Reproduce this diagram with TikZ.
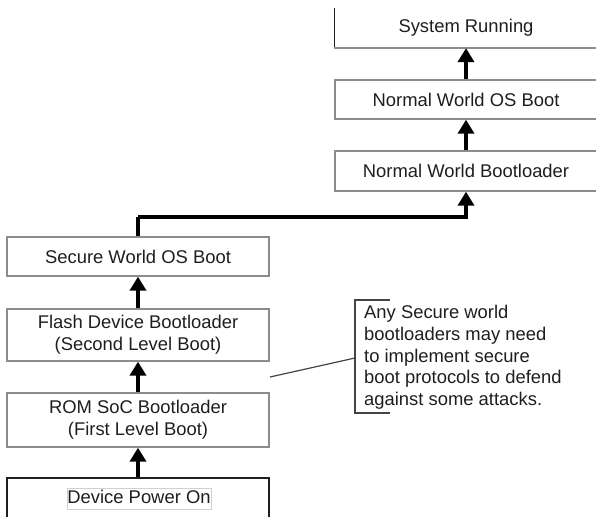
\documentclass[tikz,border=0pt]{standalone}
\usepackage{fontspec}
\setmainfont{Liberation Sans}
\usetikzlibrary{arrows.meta}
\definecolor{boxgray}{HTML}{8C8C8C}
\definecolor{inkgray}{HTML}{1E1E1E}
\definecolor{framegray}{HTML}{D0D0D0}
\definecolor{notegray}{HTML}{444444}
\tikzset{
  stage/.style={rectangle, draw=boxgray, line width=1.3pt, minimum width=262pt,
    align=center, text=inkgray, inner sep=0pt,
    font=\fontsize{18.4}{22}\selectfont},
  flow/.style={line width=3.6pt, -{Triangle[length=14pt,width=16pt]}},
  notetext/.style={align=left, text=inkgray, inner sep=0pt,
    font=\fontsize{18.4}{21.8}\selectfont},
  noteline/.style={draw=notegray, line width=1.2pt}
}
\begin{document}
\begin{tikzpicture}[x=1pt,y=-1pt]
  \useasboundingbox (0,0) rectangle (596,516);
  \clip (0,0) rectangle (596,516);

  % normal world column
  \node[stage, draw=none, minimum height=39pt] (sr) at (466,28) {System Running};
  \draw[line width=1.3pt, draw=inkgray] (sr.north west) -- (sr.south west);
  \draw[line width=1.3pt, draw=boxgray] (sr.south west) -- (sr.south east);
  \node[stage, minimum height=39pt] (nwos) at (466,99.5) {Normal World OS Boot};
  \node[stage, minimum height=40pt] (nwbl) at (466,171) {Normal World Bootloader};

  % secure world column
  \node[stage, minimum height=39pt] (swos) at (138,256.5) {Secure World OS Boot};
  \node[stage, minimum height=52pt] (flash) at (138,335) {Flash Device Bootloader\\(Second Level Boot)};
  \node[stage, minimum height=54pt] (rom) at (138,420) {ROM SoC Bootloader\\(First Level Boot)};
  \node[stage, draw=inkgray, minimum height=40pt] (power) at (138,498) {};
  \node[draw=framegray, line width=0.6pt, inner sep=0.6pt, text=inkgray,
        text height=15pt, text depth=4.5pt,
        font=\fontsize{18.4}{22}\selectfont] (powerlabel) at (139,498.5) {Device Power On};

  % boot flow
  \draw[flow] (power.north) -- (rom.south);
  \draw[flow] (rom.north) -- (flash.south);
  \draw[flow] (flash.north) -- (swos.south);
  \coordinate (bend) at (138,217);
  \draw[flow, -] (swos.north) -- (bend);
  \draw[flow] (bend) -| (nwbl.south);
  \draw[flow] (nwbl.north) -- (nwos.south);
  \draw[flow] (nwos.north) -- (sr.south);

  % annotation
  \node[notetext, anchor=north west] (note) at (364,305)
    {Any Secure world\\bootloaders may need\\to implement secure\\boot protocols to defend\\against some attacks.};
  \coordinate (btop) at (355,300);
  \coordinate (bbot) at (355,413);
  \coordinate (bpoint) at (355,358);
  \coordinate (gap) at (270,377);
  \draw[noteline] (390,300) -- (btop) -- (bbot) -- (390,413);
  \draw[noteline] (gap) -- (bpoint);
\end{tikzpicture}
\end{document}
